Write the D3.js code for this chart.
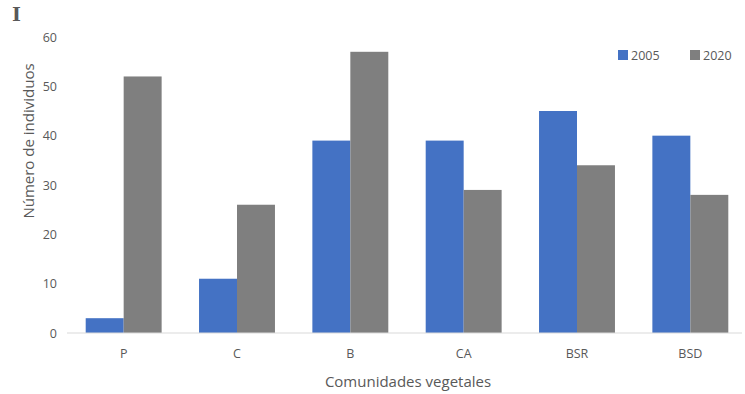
<!DOCTYPE html>
<html>
<head>
<meta charset="utf-8">
<script src="https://cdn.jsdelivr.net/npm/d3@7"></script>
<style>
  html, body { margin: 0; padding: 0; background: #fff; }
  svg { display: block; }
  text { font-family: "Open Sans", "Noto Sans", sans-serif; fill: #595959; }
</style>
</head>
<body>
<svg id="chart" width="745" height="394"></svg>
<script>
const categories = ["P", "C", "B", "CA", "BSR", "BSD"];
const seriesNames = ["2005", "2020"];
const values2005 = [3, 11, 39, 39, 45, 40];
const values2020 = [52, 26, 57, 29, 34, 28];
const yTicks = [0, 10, 20, 30, 40, 50, 60];
const colors = ["#4472C4", "#7F7F7F"];

const svg = d3.select("#chart");
const plotLeft = 67, plotRight = 747, plotTop = 37, plotBottom = 333;

const x = d3.scaleBand().domain(categories).range([plotLeft, plotRight]).paddingInner(0.33).paddingOuter(0.165);
const xs = d3.scaleBand().domain(seriesNames).range([0, x.bandwidth()]);
const y = d3.scaleLinear().domain([0, 60]).range([plotBottom, plotTop]);

const rows = categories.map((c, i) => ({ c, v: [values2005[i], values2020[i]] }));

svg.append("g").selectAll("g.grp").data(rows).join("g")
  .attr("class", "grp")
  .attr("transform", d => `translate(${x(d.c)},0)`)
  .selectAll("rect").data(d => d.v.map((v, j) => ({ s: seriesNames[j], v, j })))
  .join("rect")
  .attr("x", d => xs(d.s))
  .attr("width", xs.bandwidth())
  .attr("y", d => y(d.v))
  .attr("height", d => y(0) - y(d.v))
  .attr("fill", d => colors[d.j]);

// baseline
svg.append("line").attr("x1", plotLeft).attr("x2", 742).attr("y1", y(0)).attr("y2", y(0))
  .attr("stroke", "#D9D9D9").attr("stroke-width", 1.2);

// y axis labels
const yAxis = d3.axisLeft(y).tickValues(yTicks).tickSize(0).tickPadding(0);
const ya = svg.append("g").attr("transform", "translate(57,0)").call(yAxis);
ya.select(".domain").remove();
ya.selectAll("text").style("font-size", "12.5px").attr("fill", "#595959")
  .style("font-family", "'Open Sans', sans-serif");

// x axis labels
const xAxis = d3.axisBottom(x).tickSize(0).tickPadding(0);
const xa = svg.append("g").attr("transform", "translate(0,349)").call(xAxis);
xa.select(".domain").remove();
xa.selectAll("text").style("font-size", "12.5px").attr("fill", "#595959")
  .style("font-family", "'Open Sans', sans-serif");

// axis titles
svg.append("text").attr("x", 408).attr("y", 387).attr("text-anchor", "middle")
  .style("font-size", "15px").text("Comunidades vegetales");
svg.append("text").attr("transform", "translate(34,141) rotate(-90)").attr("text-anchor", "middle")
  .style("font-size", "15px").text("Número de individuos");

// legend
const legend = svg.append("g");
const legX = [618, 690];
seriesNames.forEach((s, j) => {
  legend.append("rect").attr("x", legX[j]).attr("y", 50).attr("width", 10).attr("height", 10).attr("fill", colors[j]);
  legend.append("text").attr("x", legX[j] + 13).attr("y", 59.5).style("font-size", "12.5px").text(s);
});

// panel letter
svg.append("text").attr("x", 12).attr("y", 21)
  .style("font-family", "'DejaVu Serif', 'Liberation Serif', serif").style("font-weight", "bold")
  .style("font-size", "19px").attr("fill", "#333333").text("I");
</script>
</body>
</html>
